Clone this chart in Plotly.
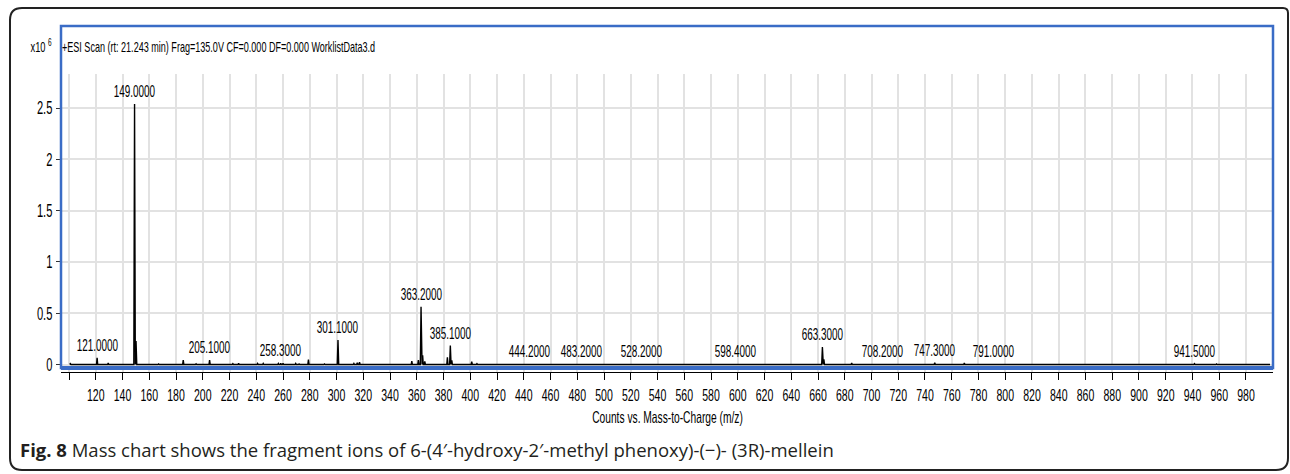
import plotly.graph_objects as go

# ---- spectrum data (intensities in units of 10^6 counts) ----
label_mz = [121.0, 149.0, 205.1, 258.3, 301.1, 363.2, 385.1, 444.2,
            483.2, 528.2, 598.4, 663.3, 708.2, 747.3, 791.0, 941.5]
label_h = [0.066, 2.54, 0.044, 0.013, 0.238, 0.563, 0.185, 0.006,
           0.004, 0.004, 0.004, 0.170, 0.005, 0.016, 0.005, 0.008]

minor_mz = [101.0, 104.5, 129.3, 150.1, 167.0, 176.5, 185.4, 195.0, 222.5,
            226.8, 241.0, 245.2, 256.5, 260.0, 269.5, 272.0, 279.0, 291.0,
            295.5, 313.0, 315.5, 317.2, 327.0, 345.0, 356.3, 361.2, 364.4,
            366.0, 382.9, 386.2, 401.1, 405.0, 427.0, 462.0, 500.0, 538.0,
            560.0, 581.0, 609.0, 625.0, 664.4, 685.2, 717.0, 769.4, 807.0,
            880.0, 937.5, 958.0, 966.0, 975.0]
minor_h = [0.008, 0.006, 0.014, 0.23, 0.005, 0.006, 0.044, 0.006, 0.008,
           0.012, 0.010, 0.010, 0.010, 0.012, 0.010, 0.006, 0.048, 0.005,
           0.006, 0.010, 0.018, 0.022, 0.005, 0.005, 0.034, 0.042, 0.090,
           0.030, 0.070, 0.040, 0.027, 0.008, 0.004, 0.003, 0.003, 0.003,
           0.003, 0.003, 0.003, 0.003, 0.050, 0.015, 0.004, 0.015, 0.006,
           0.003, 0.006, 0.005, 0.004, 0.004]

scan_start, scan_end = 100.5, 998.0

x_ticks = list(range(100, 1000, 20))
x_tick_text = [""] + [str(v) for v in x_ticks[1:]]
y_ticks = [0, 0.5, 1, 1.5, 2, 2.5]
y_tick_text = ["0", "0.5", "1", "1.5", "2", "2.5"]

header = "+ESI Scan (rt: 21.243 min) Frag=135.0V CF=0.000 DF=0.000 WorklistData3.d"
x_title = "Counts vs. Mass-to-Charge (m/z)"
caption = ("<b>Fig. 8</b> Mass chart shows the fragment ions of "
           "6-(4\u2032-hydroxy-2\u2032-methyl phenoxy)-(\u2212)- (3R)-mellein")

# ---- page geometry ----
W, H = 1290, 474
ML, MR, MT, MB = 61, 17, 74, 102
PW, PH = W - ML - MR, H - MT - MB


def fx(px):
    return (px - ML) / PW


def fy(py):
    return (H - MB - py) / PH


# instrument-style lettering: Arial metrics, squeezed horizontally below
CHART_FONT = "Liberation Sans, Arial, sans-serif"
BLUE = "#3a6cc6"

# ---- build the profile: each peak is a narrow spike on a flat baseline ----
peaks = sorted(zip(label_mz + minor_mz, label_h + minor_h))
xs, ys = [scan_start], [0.0]
for m, h in peaks:
    w = 0.55 if h > 0.1 else 0.45
    xs += [m - w, m, m + w]
    ys += [0.0, h, 0.0]
xs.append(scan_end)
ys.append(0.0)

fig = go.Figure()
fig.add_trace(go.Scatter(x=xs, y=ys, mode="lines",
                         line=dict(color="black", width=1.4),
                         hoverinfo="skip", showlegend=False))

annotations = []
for m, h in zip(label_mz, label_h):
    annotations.append(dict(x=m, y=h, xref="x", yref="y", text=f"{m:.4f}",
                            showarrow=False, yanchor="bottom", yshift=2,
                            font=dict(family=CHART_FONT, size=16, color="black")))

annotations += [
    dict(x=fx(41), y=fy(45), xref="paper", yref="paper",
         text="x10 <sup>6</sup>", showarrow=False, xanchor="center",
         yanchor="middle", font=dict(family=CHART_FONT, size=15, color="black")),
    dict(x=fx(218), y=fy(47), xref="paper", yref="paper", text=header,
         showarrow=False, xanchor="center", yanchor="middle",
         font=dict(family=CHART_FONT, size=14.6, color="black")),
    dict(x=0.5, y=fy(417), xref="paper", yref="paper", text=x_title,
         showarrow=False, xanchor="center", yanchor="middle",
         font=dict(family=CHART_FONT, size=16.5, color="black")),
    dict(x=fx(18), y=fy(449), xref="paper", yref="paper", text=caption,
         showarrow=False, xanchor="left", yanchor="middle",
         font=dict(family="Open Sans, sans-serif", size=18.5, color="#231f20")),
]

# outer rounded panel border
L, T, R, B = 10, 8, 1288, 470
r = 12
border = (f"M {fx(L + r)} {fy(T)} L {fx(R - 5)} {fy(T)} "
          f"Q {fx(R)} {fy(T)} {fx(R)} {fy(T + 5)} "
          f"L {fx(R)} {fy(B - r)} Q {fx(R)} {fy(B)} {fx(R - r)} {fy(B)} "
          f"L {fx(L + r)} {fy(B)} Q {fx(L)} {fy(B)} {fx(L)} {fy(B - r)} "
          f"L {fx(L)} {fy(T + r)} Q {fx(L)} {fy(T)} {fx(L + r)} {fy(T)} Z")

shapes = [
    dict(type="path", path=border, xref="paper", yref="paper",
         line=dict(color="#222222", width=2)),
    # blue frame round the scan panel
    dict(type="rect", xref="paper", yref="paper",
         x0=fx(61), x1=fx(1273), y0=fy(368), y1=fy(26),
         line=dict(color=BLUE, width=2.5)),
    # heavier bottom edge of the frame
    dict(type="rect", xref="paper", yref="paper",
         x0=fx(61), x1=fx(1273), y0=fy(370), y1=fy(366),
         line=dict(width=0), fillcolor=BLUE),
]

fig.update_layout(
    width=W, height=H,
    margin=dict(l=ML, r=MR, t=MT, b=MB, pad=0),
    paper_bgcolor="white", plot_bgcolor="white",
    annotations=annotations, shapes=shapes,
    xaxis=dict(range=[94.0, 1000.2], tickmode="array", tickvals=x_ticks,
               ticktext=x_tick_text, tickangle=0, showgrid=True,
               gridcolor="#e2e2e2", gridwidth=1.5, showline=True,
               linecolor="black", linewidth=1.2,
               ticks="outside", ticklen=7, tickwidth=1.2, tickcolor="black",
               tickfont=dict(family=CHART_FONT, size=17, color="black"),
               zeroline=False, fixedrange=True),
    yaxis=dict(range=[-0.0731, 2.8314], tickmode="array", tickvals=y_ticks,
               ticktext=y_tick_text, showgrid=True, gridcolor="#e2e2e2",
               gridwidth=1.5, showline=False, ticks="outside", ticklen=4,
               tickwidth=1, tickcolor="#333333",
               tickfont=dict(family=CHART_FONT, size=18, color="black"),
               zeroline=False, fixedrange=True),
)

# narrow the chart lettering (not the caption) to a condensed width,
# and shrink each annotation's background box to the narrowed text
squeeze_js = """
var gd = document.getElementById('{plot_id}');
var SQUEEZE = 0.62;
function squeezeText() {
  var nodes = gd.querySelectorAll('text');
  for (var i = 0; i < nodes.length; i++) {
    var t = nodes[i];
    var ff = t.style.fontFamily || '';
    if (ff.indexOf('Liberation Sans') < 0) continue;
    if (t.getAttribute('data-squeezed')) continue;
    var len = t.getComputedTextLength();
    if (!len) continue;
    t.setAttribute('textLength', (len * SQUEEZE).toFixed(2));
    t.setAttribute('lengthAdjust', 'spacingAndGlyphs');
    t.setAttribute('data-squeezed', '1');
    var g = t.parentNode;
    var box = g ? g.querySelector('rect.bg') : null;
    if (box) {
      var bw = parseFloat(box.getAttribute('width'));
      var bx = parseFloat(box.getAttribute('x')) || 0;
      var cut = len * (1 - SQUEEZE);
      if (!isNaN(bw) && bw > cut) {
        box.setAttribute('width', (bw - cut).toFixed(2));
        box.setAttribute('x', (bx + cut / 2).toFixed(2));
      }
    }
  }
}
squeezeText();
gd.on('plotly_afterplot', squeezeText);
"""

fig.write_html("out.html", post_script=squeeze_js)
